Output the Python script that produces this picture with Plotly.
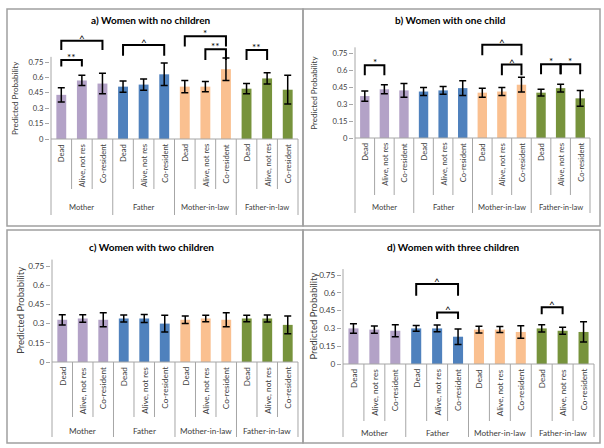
import plotly.graph_objects as go

W, H = 604, 448

relations = ["Mother", "Father", "Mother-in-law", "Father-in-law"]
statuses = ["Dead", "Alive, not res", "Co-resident"]
colors = ["#b3a2c7", "#4f81bd", "#fac090", "#77933c"]
titles = ["a) Women with no children", "b) Women with one child",
          "c) Women with two children", "d) Women with three children"]
ytick_vals = [0, 0.15, 0.3, 0.45, 0.6, 0.75]
ytick_text = ["0", "0.15", "0.3", "0.45", "0.6", "0.75"]

# predicted probabilities (order: Mother D/A/C, Father D/A/C, MIL D/A/C, FIL D/A/C)
a_vals = [0.43, 0.57, 0.54, 0.51, 0.53, 0.63, 0.51, 0.51, 0.68, 0.49, 0.59, 0.48]
a_err = [0.07, 0.05, 0.10, 0.055, 0.055, 0.11, 0.06, 0.05, 0.11, 0.05, 0.055, 0.14]
b_vals = [0.37, 0.43, 0.42, 0.41, 0.42, 0.44, 0.40, 0.41, 0.47, 0.40, 0.44, 0.35]
b_err = [0.045, 0.04, 0.06, 0.035, 0.035, 0.065, 0.04, 0.035, 0.065, 0.03, 0.035, 0.07]
c_vals = [0.33, 0.34, 0.33, 0.34, 0.34, 0.30, 0.33, 0.34, 0.33, 0.34, 0.34, 0.29]
c_err = [0.04, 0.03, 0.055, 0.028, 0.032, 0.065, 0.03, 0.025, 0.055, 0.025, 0.028, 0.07]
d_vals = [0.30, 0.29, 0.28, 0.30, 0.30, 0.23, 0.29, 0.29, 0.27, 0.30, 0.28, 0.27]
d_err = [0.04, 0.03, 0.05, 0.025, 0.028, 0.065, 0.028, 0.025, 0.052, 0.03, 0.03, 0.085]

# significance brackets: (from bar, to bar, bracket top, leg bottom, label)
a_brackets = [(0, 1, 0.77, 0.705, "**"), (0, 2, 0.957, 0.866, "^"),
              (3, 5, 0.915, 0.81, "^"), (6, 8, 1.0, 0.90, "*"),
              (7, 8, 0.873, 0.77, "**"), (9, 10, 0.866, 0.77, "**")]
b_brackets = [(0, 1, 0.642, 0.554, "*"), (6, 8, 0.823, 0.73, "^"),
              (7, 8, 0.648, 0.554, "^"), (9, 10, 0.65, 0.563, "*"),
              (10, 11, 0.65, 0.563, "*")]
c_brackets = []
d_brackets = [(3, 5, 0.674, 0.576, "^"), (4, 5, 0.435, 0.38, "^"),
              (9, 10, 0.478, 0.42, "^")]

panels = [
    dict(vals=a_vals, err=a_err, br=a_brackets, box=(7, 9, 303, 226), xl=51, xr=298,
         zero=139, ppu=77 / 0.75, ty=20, tx=150, ytx=15, gy=207, inner=50, grp=76,
         fs=7.6, yfs=8),
    dict(vals=b_vals, err=b_err, br=b_brackets, box=(303, 9, 600, 226), xl=355, xr=590,
         zero=138, ppu=85 / 0.75, ty=20, tx=450, ytx=314, gy=207, inner=57, grp=75,
         fs=7.6, yfs=8),
    dict(vals=c_vals, err=c_err, br=c_brackets, box=(7, 230, 303, 443), xl=52, xr=298,
         zero=362, ppu=96 / 0.75, ty=247, tx=151, ytx=21, gy=431, inner=55, grp=75,
         fs=8.2, yfs=9.5),
    dict(vals=d_vals, err=d_err, br=d_brackets, box=(303, 230, 600, 443), xl=343, xr=594,
         zero=364, ppu=89 / 0.75, ty=247, tx=453, ytx=314, gy=433, inner=57, grp=73,
         fs=8.2, yfs=9.5),
]

FONT = "Lato"
AX = "#a6a6a6"
fig = go.Figure()
shapes, annotations = [], []
layout = dict(width=W, height=H, margin=dict(l=0, r=0, t=0, b=0),
              paper_bgcolor="white", plot_bgcolor="white", showlegend=False,
              bargap=0.5, font=dict(family=FONT, color="#404040"))

pad = 0.05
for k, p in enumerate(panels):
    s = "" if k == 0 else str(k + 1)
    xa, ya = "x" + s, "y" + s
    catw = (p["xr"] - p["xl"]) / 12
    top_px = p["ty"] + 6
    bot_px = p["zero"] + p["grp"] + 4
    ymax = (p["zero"] - top_px) / p["ppu"]
    ymin = -(bot_px - p["zero"]) / p["ppu"]
    layout["xaxis" + s] = dict(domain=[(p["xl"] - pad * catw) / W, (p["xr"] + pad * catw) / W],
                               range=[-0.5 - pad, 11.5 + pad], visible=False, anchor=ya,
                               fixedrange=True)
    layout["yaxis" + s] = dict(domain=[1 - bot_px / H, 1 - top_px / H], range=[ymin, ymax],
                               tickvals=ytick_vals, ticktext=ytick_text, ticks="outside",
                               ticklen=4, tickcolor=AX, showgrid=False, zeroline=False,
                               showline=False, anchor=xa,
                               tickfont=dict(family=FONT, size=p["fs"], color="#404040"))
    for g in range(4):
        idx = [g * 3 + j for j in range(3)]
        fig.add_trace(go.Bar(
            x=idx, y=[p["vals"][i] for i in idx], width=0.48,
            marker=dict(color=colors[g], line=dict(width=0)),
            error_y=dict(type="data", array=[p["err"][i] for i in idx], color="black",
                         thickness=1.5, width=3.5),
            xaxis=xa, yaxis=ya, hoverinfo="skip"))
    # axis lines
    shapes.append(dict(type="line", xref=xa, yref=ya, x0=-0.5, x1=-0.5, y0=0, y1=0.8,
                       line=dict(color=AX, width=1)))
    shapes.append(dict(type="line", xref=xa, yref=ya, x0=-0.5, x1=11.5, y0=0, y1=0,
                       line=dict(color=AX, width=1)))
    for i in range(13):
        depth = p["grp"] if i % 3 == 0 else p["inner"]
        shapes.append(dict(type="line", xref=xa, yref=ya, x0=i - 0.5, x1=i - 0.5,
                           y0=0, y1=-depth / p["ppu"], line=dict(color=AX, width=1)))
    # category labels
    for i in range(12):
        annotations.append(dict(xref=xa, yref=ya, x=i, y=0, yshift=-3, text=statuses[i % 3],
                                textangle=-90, showarrow=False, xanchor="center",
                                yanchor="top", font=dict(family=FONT, size=p["fs"],
                                                         color="#404040")))
    for g in range(4):
        annotations.append(dict(xref=xa, yref=ya, x=g * 3 + 1,
                                y=-(p["gy"] - p["zero"]) / p["ppu"], text=relations[g],
                                showarrow=False, xanchor="center", yanchor="middle",
                                font=dict(family=FONT, size=p["fs"], color="#404040")))
    # brackets
    for (i0, i1, yt, yb, lab) in p["br"]:
        shapes.append(dict(type="path", xref=xa, yref=ya,
                           path=f"M {i0},{yb} L {i0},{yt} L {i1},{yt} L {i1},{yb}",
                           line=dict(color="black", width=2)))
        annotations.append(dict(xref=xa, yref=ya, x=(i0 + i1) / 2, y=yt, text=lab,
                                showarrow=False, xanchor="center", yanchor="bottom",
                                yshift=(-5 if lab == "^" else -5),
                                font=dict(family=FONT, size=10, color="black")))
    # title and y title
    annotations.append(dict(xref="paper", yref="paper", x=p["tx"] / W, y=1 - p["ty"] / H,
                            text="<b>" + titles[k] + "</b>", showarrow=False,
                            xanchor="center", yanchor="middle",
                            font=dict(family=FONT, size=10, color="black")))
    annotations.append(dict(xref="paper", yref=ya, x=p["ytx"] / W, y=0.4,
                            text="Predicted Probability", textangle=-90, showarrow=False,
                            xanchor="center", yanchor="middle",
                            font=dict(family=FONT, size=p["yfs"], color="#404040")))
    # panel border
    x0, y0, x1, y1 = p["box"]
    shapes.append(dict(type="rect", xref="paper", yref="paper", x0=x0 / W, x1=x1 / W,
                       y0=1 - y1 / H, y1=1 - y0 / H, line=dict(color="#a0a0a0", width=1.5)))

layout["shapes"] = shapes
layout["annotations"] = annotations
fig.update_layout(**layout)
fig.write_html("out.html")
